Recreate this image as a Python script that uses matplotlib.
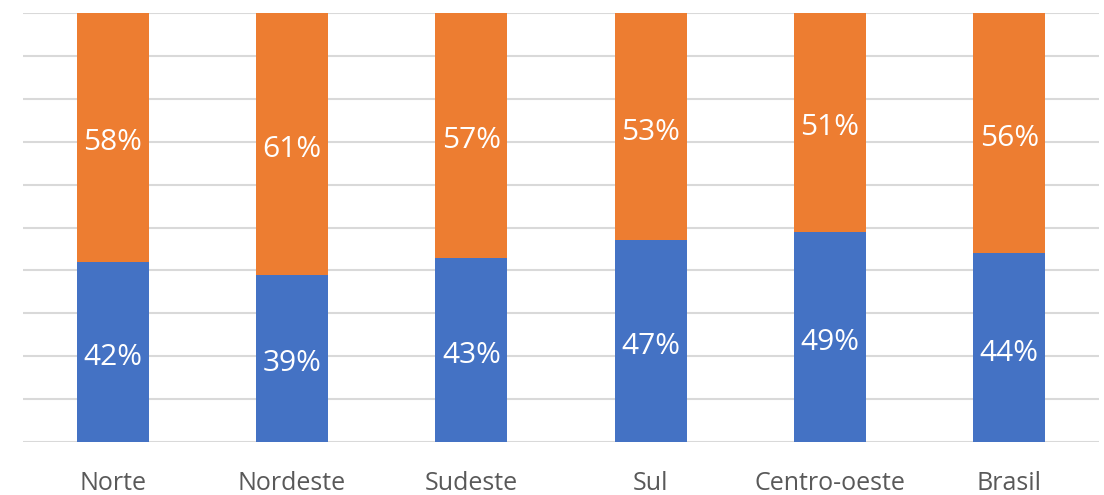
import matplotlib
matplotlib.use("Agg")
import matplotlib.pyplot as plt
import numpy as np

categories = ["Norte", "Nordeste", "Sudeste", "Sul", "Centro-oeste", "Brasil"]
blue_vals = [42, 39, 43, 47, 49, 44]
orange_vals = [58, 61, 57, 53, 51, 56]

plt.rcParams['font.family'] = ['Open Sans', 'DejaVu Sans']

fig = plt.figure(figsize=(11.04, 4.95), dpi=100)
ax = fig.add_axes([23/1104, 53/495, (1099-23)/1104, (442-13)/495])

x = np.arange(len(categories))
w = 0.40
ax.bar(x, blue_vals, width=w, color="#4472C4", zorder=3)
ax.bar(x, orange_vals, width=w, bottom=blue_vals, color="#ED7D31", zorder=3)

for xi, bv, ov in zip(x, blue_vals, orange_vals):
    ax.annotate(f"{bv}%", (xi, bv / 2), xytext=(0, -4), textcoords="offset points",
                ha="center", va="center", color="white", fontsize=21.5, zorder=4)
    ax.annotate(f"{ov}%", (xi, bv + ov / 2), xytext=(0, -4), textcoords="offset points",
                ha="center", va="center", color="white", fontsize=21.5, zorder=4)

ax.set_xlim(-0.5, len(categories) - 0.5)
ax.set_ylim(0, 100)
ax.set_yticks(np.arange(0, 101, 10))
ax.set_yticklabels([])
ax.tick_params(axis="y", length=0)
ax.set_xticks(x)
ax.set_xticklabels(categories, fontsize=18, color="#595959")
ax.tick_params(axis="x", length=0, pad=21)
ax.grid(axis="y", color="#D9D9D9", linewidth=1.5, zorder=0)
for s in ax.spines.values():
    s.set_visible(False)

fig.savefig("out.png", dpi=100)
